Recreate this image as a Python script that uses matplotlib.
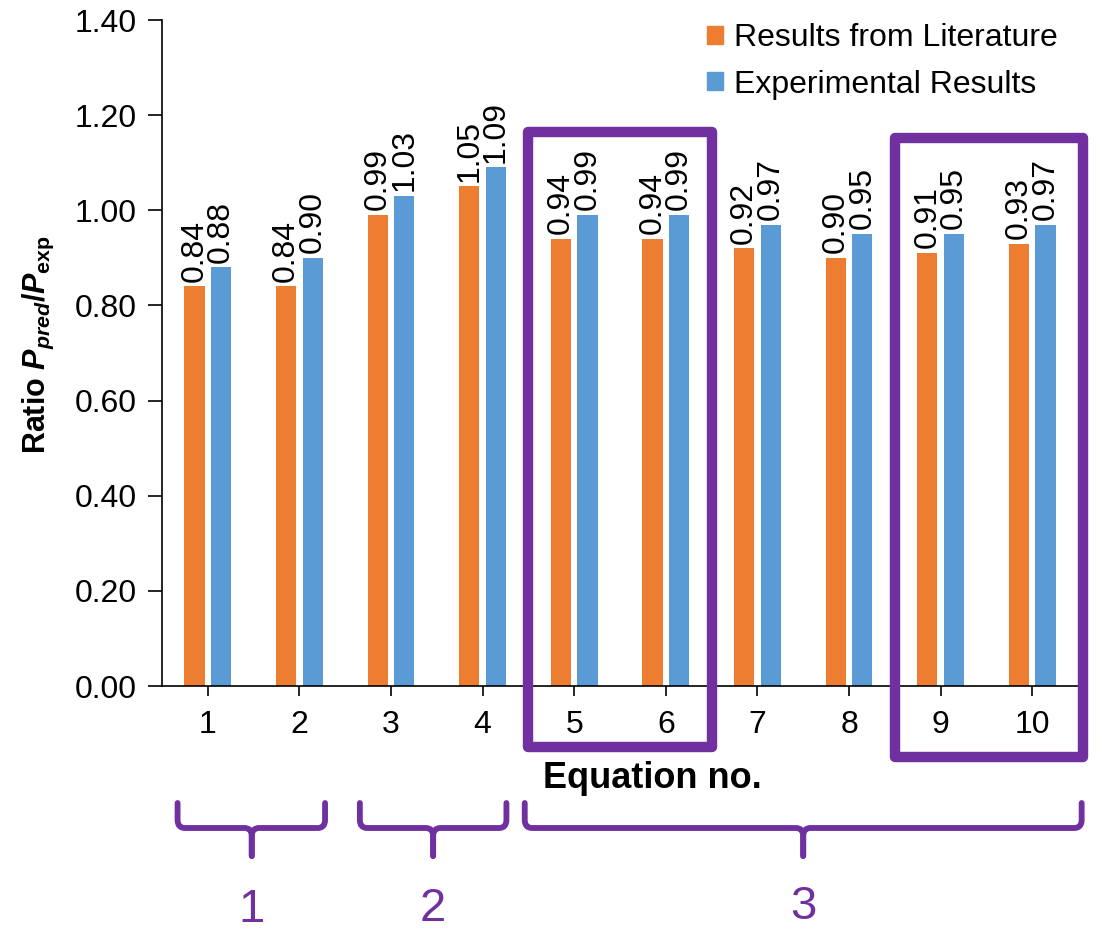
import matplotlib
matplotlib.use("Agg")
import matplotlib.pyplot as plt
import numpy as np
from matplotlib.patches import Patch, Rectangle
from matplotlib.path import Path
from matplotlib.patches import PathPatch
import matplotlib.transforms as mtransforms

# ---- data ----
equations = ["1", "2", "3", "4", "5", "6", "7", "8", "9", "10"]
literature = [0.84, 0.84, 0.99, 1.05, 0.94, 0.94, 0.92, 0.90, 0.91, 0.93]
experimental = [0.88, 0.90, 1.03, 1.09, 0.99, 0.99, 0.97, 0.95, 0.95, 0.97]
yticks = [0.0, 0.2, 0.4, 0.6, 0.8, 1.0, 1.2, 1.4]
legend_labels = ["Results from Literature", "Experimental Results"]
group_labels = ["1", "2", "3"]

ORANGE = "#ED7D31"
BLUE = "#5B9BD5"
PURPLE = "#7030A0"

plt.rcParams["font.family"] = ["Liberation Sans", "DejaVu Sans"]
plt.rcParams["mathtext.fontset"] = "custom"
plt.rcParams["mathtext.it"] = "Liberation Sans:italic:bold"
plt.rcParams["mathtext.rm"] = "Liberation Sans:bold"
plt.rcParams["mathtext.bf"] = "Liberation Sans:bold"

W_PX, H_PX = 1107, 932
fig = plt.figure(figsize=(W_PX / 100, H_PX / 100), dpi=100)

ax_l, ax_r, ax_t, ax_b = 162, 1078, 20, 686
ax = fig.add_axes([ax_l / W_PX, 1 - ax_b / H_PX, (ax_r - ax_l) / W_PX, (ax_b - ax_t) / H_PX])

x = np.arange(1, len(equations) + 1)
bw = 0.22
off = 0.145
ax.bar(x - off, literature, width=bw, color=ORANGE, label=legend_labels[0], zorder=2)
ax.bar(x + off, experimental, width=bw, color=BLUE, label=legend_labels[1], zorder=2)

for xi, v in zip(x, literature):
    ax.text(xi - off, v + 0.01, f"{v:.2f}", rotation=90, ha="center", va="bottom", fontsize=23)
for xi, v in zip(x, experimental):
    ax.text(xi + off, v + 0.01, f"{v:.2f}", rotation=90, ha="center", va="bottom", fontsize=23)

ax.set_xlim(0.5, len(equations) + 0.5)
ax.set_ylim(0, 1.4)
ax.set_yticks(yticks)
ax.set_yticklabels([f"{t:.2f}" for t in yticks])
ax.set_xticks(x)
ax.set_xticklabels(equations)
ax.tick_params(axis="y", labelsize=23, direction="out", length=10, width=1.2, pad=8)
ax.tick_params(axis="x", labelsize=23, direction="out", length=7, width=1.2, pad=10)
for s in ["top", "right"]:
    ax.spines[s].set_visible(False)
for s in ["left", "bottom"]:
    ax.spines[s].set_linewidth(1.2)

ax.set_xlabel("Equation no.", fontsize=26, fontweight="bold")
ax.xaxis.set_label_coords((652 - ax_l) / (ax_r - ax_l), (ax_b - 778) / (ax_b - ax_t))
ax.xaxis.label.set_va("center")
ax.set_ylabel(r"Ratio $P_{pred}$/$P_{\mathrm{exp}}$", fontsize=22, fontweight="bold")
ax.yaxis.set_label_coords((38 - ax_l) / (ax_r - ax_l), (ax_b - 345) / (ax_b - ax_t))
ax.yaxis.label.set_va("center")

handles = [Patch(color=ORANGE), Patch(color=BLUE)]
fig.legend(handles, legend_labels, loc="upper left", bbox_to_anchor=(707 / W_PX, 1 - 23 / H_PX),
           frameon=False, fontsize=23, handlelength=0.5, handleheight=0.5,
           handletextpad=0.35, labelspacing=0.52, borderpad=0, borderaxespad=0)

# blended transform: x in data units, y in figure fraction
blend = mtransforms.blended_transform_factory(ax.transData, fig.transFigure)

def fy(py):
    return 1 - py / H_PX

# purple highlight boxes
for (x0, x1, top, bot) in [(4.5, 6.5, 132, 747), (8.5, 10.55, 138, 757)]:
    rect = Rectangle((x0, fy(bot)), x1 - x0, fy(top) - fy(bot), transform=blend,
                     fill=False, edgecolor=PURPLE, linewidth=7.5, joinstyle="round",
                     clip_on=False, zorder=5)
    ax.add_patch(rect)

# braces
def brace(x0, x1, xc, ytop=803, yh=828, ytip=856, dx=0.08, dy=8):
    for xe, sgn in [(x0, 1), (x1, -1)]:
        verts = [(xe, fy(ytop)), (xe, fy(yh - dy)), (xe, fy(yh)), (xe + sgn * dx, fy(yh)),
                 (xc - sgn * dx, fy(yh)), (xc, fy(yh)), (xc, fy(yh + dy)), (xc, fy(ytip))]
        codes = [Path.MOVETO, Path.LINETO, Path.CURVE3, Path.CURVE3,
                 Path.LINETO, Path.CURVE3, Path.CURVE3, Path.LINETO]
        pp = PathPatch(Path(verts, codes), transform=blend, fill=False, edgecolor=PURPLE,
                       linewidth=4.2, capstyle="round", joinstyle="round", clip_on=False)
        ax.add_patch(pp)

brace_spans = [(0.67, 2.28, 1.48), (2.66, 4.26, 3.46), (4.46, 10.54, 7.5)]
label_y = [910, 909, 907]
for (b0, b1, bc), lab, ly in zip(brace_spans, group_labels, label_y):
    brace(b0, b1, bc)
    ax.text(bc, fy(ly), lab, transform=blend, ha="center", va="center", fontsize=34,
            color=PURPLE, clip_on=False)

fig.savefig("out.png", dpi=100)
